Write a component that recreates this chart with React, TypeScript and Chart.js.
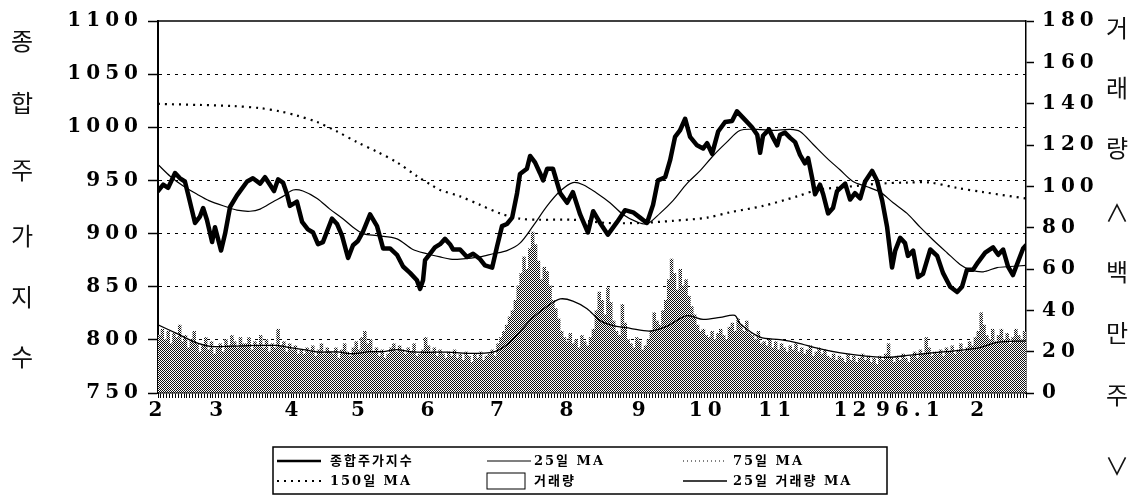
import React, { useEffect, useRef } from 'react';
import { Chart, registerables } from 'chart.js';

Chart.register(...registerables);

// ---------- axis / label data ----------
const monthTickDays = [0, 21, 47, 70, 94, 118, 142, 167, 190, 214, 240, 260, 284];
const monthLabels = ['2', '3', '4', '5', '6', '7', '8', '9', '10', '11', '12', '96.1', '2'];
const totalDays = 300;
const leftTicks = [750, 800, 850, 900, 950, 1000, 1050, 1100];
const rightTicks = [0, 20, 40, 60, 80, 100, 120, 140, 160, 180];
const leftTitle = ['종', '합', '주', '가', '지', '수'];
const rightTitle = ['거', '래', '량', '∧', '백', '만', '주', '∨'];
const seriesLabels = ['종합주가지수', '25일 MA', '75일 MA', '150일 MA', '거래량', '25일 거래량 MA'];

// ---------- series (x = trading day from start of Feb 1995) ----------
const indexDays = [0, 1.8, 3.5, 5.9, 7.6, 9.3, 10.4, 12.8, 14.5, 15.6, 16.9, 18.7, 19.7, 21.8, 23.2, 24.9, 27.3, 30.8, 32.8, 35.3, 37.0, 38.7, 40.1, 41.5, 43.2, 44.6, 45.6, 48.0, 49.8, 51.8, 53.6, 55.3, 57.0, 60.1, 61.9, 63.6, 65.7, 67.4, 69.1, 70.9, 73.3, 75.7, 77.8, 80.2, 82.6, 84.7, 87.1, 89.5, 90.6, 91.6, 92.3, 94.0, 95.7, 97.5, 99.2, 100.9, 102.0, 104.4, 106.8, 108.9, 111.3, 113.0, 115.5, 117.2, 118.9, 120.6, 122.4, 124.1, 125.1, 127.5, 128.6, 130.3, 132.0, 133.1, 134.5, 136.5, 139.0, 141.4, 143.4, 145.9, 148.6, 150.4, 152.8, 155.5, 158.7, 161.4, 164.2, 166.6, 169.0, 171.1, 172.8, 175.3, 177.0, 178.7, 180.4, 182.2, 183.9, 186.3, 188.4, 189.8, 191.5, 193.6, 196.0, 198.4, 200.1, 202.9, 205.3, 207.1, 208.1, 209.1, 211.2, 212.6, 214.0, 215.0, 216.7, 218.5, 220.2, 221.9, 223.6, 224.7, 226.1, 227.1, 228.8, 229.9, 231.6, 233.3, 234.7, 237.5, 239.2, 240.9, 242.7, 244.4, 246.8, 248.5, 250.3, 252.0, 253.7, 254.8, 256.5, 258.2, 259.2, 261.0, 262.7, 264.4, 266.9, 269.3, 271.3, 273.8, 276.2, 277.9, 279.6, 281.7, 283.4, 285.9, 288.6, 290.4, 292.1, 293.8, 295.5, 297.3, 299.0, 300];
const indexVals = [940, 946, 943, 957, 952, 949, 937, 910, 916, 924, 913, 892, 906, 884, 900, 925, 936, 949, 952, 947, 953, 946, 940, 951, 948, 937, 926, 930, 911, 904, 901, 890, 892, 914, 909, 898, 877, 889, 893, 902, 918, 907, 886, 886, 880, 869, 863, 856, 848, 856, 875, 881, 887, 890, 895, 890, 885, 885, 878, 881, 876, 870, 868, 888, 907, 909, 915, 938, 956, 961, 973, 967, 957, 950, 961, 961, 938, 929, 939, 918, 901, 921, 910, 899, 911, 922, 920, 915, 910, 927, 950, 953, 969, 991, 997, 1008, 991, 983, 980, 985, 975, 996, 1005, 1006, 1015, 1007, 1000, 993, 976, 992, 998, 990, 983, 993, 995, 990, 986, 974, 966, 971, 952, 937, 946, 937, 919, 924, 940, 947, 932, 938, 933, 949, 959, 950, 931, 906, 868, 884, 896, 891, 879, 884, 859, 862, 885, 879, 863, 850, 845, 850, 866, 866, 873, 882, 887, 880, 885, 869, 861, 874, 886, 889];

const ma25Days = [0, 4.2, 8.6, 13.5, 17.6, 23.8, 27.3, 31.8, 35.3, 39.8, 43.2, 46.7, 50.1, 55.0, 59.4, 63.9, 67.4, 70.9, 75.7, 82.6, 88.1, 93.0, 97.5, 101.0, 104.4, 111.3, 115.8, 120.6, 125.1, 129.6, 134.5, 139.0, 143.4, 146.9, 151.7, 156.2, 160.7, 165.5, 169.0, 173.5, 178.0, 182.8, 187.3, 191.8, 196.6, 201.1, 207.1, 212.6, 218.5, 221.9, 226.4, 231.2, 235.7, 240.2, 245.1, 249.6, 254.1, 258.9, 263.4, 267.9, 272.7, 277.2, 280.7, 285.2, 290.0, 294.5, 300];
const ma25Vals = [965, 954, 945, 937, 931, 925, 922, 921, 923, 930, 935, 941, 940, 933, 923, 914, 906, 900, 898, 895, 885, 881, 878, 876, 876, 878, 881, 884, 891, 907, 926, 940, 948, 946, 938, 929, 918, 911, 909, 919, 931, 947, 959, 973, 986, 997, 998, 997, 998, 996, 984, 971, 960, 949, 944, 939, 929, 919, 906, 894, 882, 871, 866, 864, 868, 869, 870];

const ma75Days: number[] = [];
const ma75Vals: number[] = [];

const ma150Days = [0, 14.5, 25.9, 35.3, 42.2, 48.0, 54.9, 61.9, 68.8, 75.7, 82.6, 89.5, 94.9, 97.5, 104.4, 111.3, 118.2, 125.1, 132.0, 143.4, 155.2, 166.6, 178.0, 189.8, 197.7, 209.1, 220.9, 227.8, 238.2, 249.6, 259.0, 266.9, 276.2, 285.2, 300];
const ma150Vals = [1022, 1021, 1020, 1018, 1015, 1011, 1005, 996, 986, 977, 967, 954, 945, 941, 935, 927, 919, 914, 913, 913, 910, 910, 912, 915, 920, 926, 935, 941, 944, 947, 948, 948, 943, 939, 933];

const volumes = [
  28, 31, 26, 30, 24, 29, 27, 33, 25, 28,
  22, 26, 30, 24, 20, 23, 27, 21, 25, 19,
  22, 24, 20, 26, 23, 28, 25, 22, 27, 24,
  24, 27, 21, 25, 23, 28, 22, 26, 20, 24,
  22, 31, 23, 25, 20, 24, 21, 23, 19, 21,
  19, 22, 20, 23, 18, 21, 24, 19, 22, 20,
  19, 22, 17, 21, 24, 20, 18, 22, 25, 21,
  27, 30, 24, 26, 20, 22, 18, 21, 17, 19,
  22, 24, 20, 23, 21, 19, 22, 20, 24, 18,
  19, 21, 27, 23, 20, 22, 18, 21, 19, 17,
  20, 18, 21, 17, 19, 16, 20, 18, 15, 19,
  17, 20, 16, 18, 19, 21, 18, 24, 27, 30,
  33, 37, 40, 45, 52, 58, 66, 60, 70, 78,
  72, 64, 55, 61, 59, 52, 45, 41, 36, 30,
  27, 25, 29, 24, 26, 22, 28, 25, 23, 27,
  31, 40, 49, 45, 38, 51, 44, 35, 30, 28,
  43, 34, 26, 24, 22, 27, 25, 21, 23, 26,
  30, 39, 35, 33, 40, 45, 55, 65, 58, 50,
  60, 52, 55, 47, 42, 38, 33, 30, 31, 28,
  27, 30, 26, 29, 31, 28, 26, 32, 34, 30,
  36, 33, 30, 35, 29, 28, 26, 30, 24, 25,
  23, 26, 22, 25, 21, 24, 22, 20, 23, 21,
  24, 20, 22, 19, 21, 23, 18, 20, 22, 19,
  21, 18, 17, 19, 16, 18, 17, 15, 19, 16,
  18, 15, 17, 19, 16, 18, 15, 17, 14, 18,
  16, 19, 24, 17, 15, 18, 16, 19, 17, 15,
  18, 20, 17, 21, 19, 27, 22, 18, 20, 19,
  21, 18, 22, 20, 23, 19, 21, 24, 20, 22,
  25, 23, 27, 30, 39, 33, 28, 26, 31, 25,
  28, 31, 26, 29, 24, 27, 31, 28, 26, 30,
];

const volMaDays = [0, 6.6, 12.1, 18.0, 25.9, 34.2, 41.1, 45.6, 51.5, 56.0, 61.9, 67.4, 73.3, 77.8, 82.6, 87.1, 93.0, 99.9, 106.8, 115.8, 120.6, 125.1, 129.6, 134.5, 139.0, 143.4, 148.3, 152.8, 157.3, 163.2, 170.1, 176.0, 182.8, 188.4, 194.3, 199.4, 201.2, 208.1, 215.0, 220.9, 228.1, 235.9, 243.8, 252.1, 260.0, 266.9, 276.2, 284.1, 290.0, 300];
const volMaVals = [33, 28.7, 25, 22.6, 22.7, 23, 23, 22, 20.7, 19.8, 19.9, 19.0, 20.0, 20.0, 21, 20, 19.7, 19.8, 19.2, 19.8, 23.3, 29.7, 36.5, 42, 45.5, 44.5, 40.8, 35, 32.6, 31.3, 30, 32.4, 37.4, 35.6, 36.6, 37.6, 33.5, 27, 25.8, 24.3, 21.6, 19.4, 18, 17.2, 18.3, 19.3, 20.5, 22, 24.5, 25.2];

const pts = (xs: number[], ys: number[]) => xs.map((x, i) => ({ x, y: ys[i] }));

const TICK_FONT = { family: '"DejaVu Serif", "Liberation Serif", serif', size: 20, weight: 'bold' as const };

export default function App() {
  const canvasRef = useRef<HTMLCanvasElement | null>(null);

  useEffect(() => {
    const canvas = canvasRef.current;
    if (!canvas) return;
    const ctx0 = canvas.getContext('2d')!;

    const pc = document.createElement('canvas');
    pc.width = 2;
    pc.height = 2;
    const pg = pc.getContext('2d')!;
    pg.fillStyle = '#ffffff';
    pg.fillRect(0, 0, 2, 2);
    pg.fillStyle = '#111111';
    pg.fillRect(0, 0, 1, 1);
    pg.fillRect(1, 1, 1, 1);
    const pattern = ctx0.createPattern(pc, 'repeat') || '#888';

    const spacingPlugin = {
      id: 'spacing',
      beforeDraw(chart: any) {
        (chart.ctx as any).letterSpacing = '5px';
      },
    };

    const decorPlugin = {
      id: 'decor',
      afterDraw(chart: any) {
        const ctx = chart.ctx as CanvasRenderingContext2D;
        const a = chart.chartArea;
        ctx.save();
        (ctx as any).letterSpacing = '0px';
        // top frame line
        ctx.strokeStyle = '#000';
        ctx.lineWidth = 1.5;
        ctx.beginPath();
        ctx.moveTo(a.left, a.top);
        ctx.lineTo(a.right, a.top);
        ctx.stroke();

        // vertical axis titles
        ctx.fillStyle = '#111';
        ctx.font = '24px "Noto Sans CJK KR", sans-serif';
        ctx.textAlign = 'center';
        ctx.textBaseline = 'middle';
        const leftY = [41, 103, 170, 236, 297, 357];
        leftTitle.forEach((ch, i) => ctx.fillText(ch, 22, leftY[i]));
        const rightY = [28, 88, 148, 213, 272, 333, 395, 466];
        rightTitle.forEach((ch, i) => ctx.fillText(ch, 1117, rightY[i]));

        // legend box
        ctx.lineWidth = 1.5;
        ctx.strokeStyle = '#000';
        ctx.strokeRect(273, 447, 614, 47);
        const sampleX = [277, 487, 683];
        const textX = [330, 534, 733];
        const rowY = [461, 481];
        ctx.textAlign = 'left';
        ctx.font = 'bold 13px "DejaVu Serif", "Noto Sans CJK KR", serif';
        (ctx as any).letterSpacing = '2px';
        chart.data.datasets.forEach((ds: any, i: number) => {
          const col = i % 3;
          const row = Math.floor(i / 3);
          const y = rowY[row];
          const sx = sampleX[col];
          ctx.save();
          if (ds.type === 'line') {
            ctx.strokeStyle = '#000';
            ctx.lineWidth = Math.min(ds.borderWidth, 2.5);
            ctx.setLineDash(ds.borderDash || []);
            ctx.beginPath();
            ctx.moveTo(sx, y);
            ctx.lineTo(sx + 44, y);
            ctx.stroke();
          } else {
            ctx.fillStyle = '#fff';
            ctx.fillRect(sx, y - 8, 38, 16);
            ctx.strokeStyle = '#000';
            ctx.lineWidth = 1;
            ctx.strokeRect(sx, y - 8, 38, 16);
          }
          ctx.restore();
          ctx.fillStyle = '#000';
          ctx.fillText(ds.label, textX[col], y + 1);
        });
        ctx.restore();
      },
    };

    const chart = new Chart(canvas, {
      type: 'bar',
      data: {
        datasets: [
          {
            type: 'line',
            label: seriesLabels[0],
            data: pts(indexDays, indexVals),
            borderColor: '#000',
            borderWidth: 4.5,
            borderJoinStyle: 'round',
            borderCapStyle: 'round',
            pointRadius: 0,
            tension: 0,
            yAxisID: 'y',
            order: 0,
          } as any,
          {
            type: 'line',
            label: seriesLabels[1],
            data: pts(ma25Days, ma25Vals),
            borderColor: '#000',
            borderWidth: 1.2,
            pointRadius: 0,
            tension: 0.3,
            yAxisID: 'y',
            order: 1,
          } as any,
          {
            type: 'line',
            label: seriesLabels[2],
            data: pts(ma75Days, ma75Vals),
            borderColor: '#000',
            borderWidth: 1,
            borderDash: [1, 3],
            pointRadius: 0,
            yAxisID: 'y',
            order: 2,
          } as any,
          {
            type: 'line',
            label: seriesLabels[3],
            data: pts(ma150Days, ma150Vals),
            borderColor: '#000',
            borderWidth: 2.2,
            borderDash: [2, 5],
            pointRadius: 0,
            tension: 0.3,
            yAxisID: 'y',
            order: 3,
          } as any,
          {
            type: 'bar',
            label: seriesLabels[4],
            data: volumes.map((v, i) => ({ x: i + 0.5, y: v })),
            backgroundColor: pattern as any,
            borderWidth: 0,
            barPercentage: 1.2,
            categoryPercentage: 1,
            yAxisID: 'y1',
            order: 10,
          } as any,
          {
            type: 'line',
            label: seriesLabels[5],
            data: pts(volMaDays, volMaVals),
            borderColor: '#000',
            borderWidth: 1.3,
            pointRadius: 0,
            tension: 0.3,
            yAxisID: 'y1',
            order: 4,
          } as any,
        ],
      },
      options: {
        responsive: false,
        animation: false,
        devicePixelRatio: 1,
        layout: { padding: { top: 21, left: 0, right: 0, bottom: 0 } },
        plugins: { legend: { display: false }, tooltip: { enabled: false } },
        scales: {
          x: {
            type: 'linear',
            min: 0,
            max: totalDays,
            offset: false,
            afterBuildTicks: (s: any) => {
              s.ticks = Array.from({ length: totalDays + 1 }, (_, i) => ({ value: i }));
            },
            afterFit: (s: any) => {
              s.height = 109;
            },
            grid: {
              offset: false,
              drawOnChartArea: false,
              drawTicks: true,
              tickLength: 5,
              tickColor: '#000',
              tickWidth: 1,
            },
            border: { display: true, color: '#000', width: 1.5 },
            ticks: {
              autoSkip: false,
              maxRotation: 0,
              minRotation: 0,
              padding: 1,
              color: '#000',
              font: TICK_FONT,
              callback: (value: any) => {
                const k = monthTickDays.indexOf(Number(value));
                return k >= 0 ? monthLabels[k] : '';
              },
            },
          },
          y: {
            type: 'linear',
            position: 'left',
            min: 750,
            max: 1100,
            afterBuildTicks: (s: any) => {
              s.ticks = leftTicks.map((v) => ({ value: v }));
            },
            afterFit: (s: any) => {
              s.width = 158;
            },
            grid: {
              color: (c: any) => (c.tick && (c.tick.value === 750 || c.tick.value === 1100) ? 'rgba(0,0,0,0)' : '#000'),
              lineWidth: 1,
              tickLength: 10,
              tickColor: '#000',
              tickWidth: 1.5,
            },
            border: { display: true, color: '#000', width: 2, dash: [3, 5] },
            ticks: { padding: 5, color: '#000', font: TICK_FONT, callback: (v: any) => String(v) },
          },
          y1: {
            type: 'linear',
            position: 'right',
            min: 0,
            max: 180,
            afterBuildTicks: (s: any) => {
              s.ticks = rightTicks.map((v) => ({ value: v }));
            },
            afterFit: (s: any) => {
              s.width = 112;
            },
            grid: {
              drawOnChartArea: false,
              tickLength: 8,
              tickColor: '#000',
              tickWidth: 1.5,
            },
            border: { display: true, color: '#000', width: 1.5 },
            ticks: { padding: 8, color: '#000', font: TICK_FONT, callback: (v: any) => String(v) },
          },
        },
      } as any,
      plugins: [spacingPlugin, decorPlugin],
    });

    return () => {
      chart.destroy();
    };
  }, []);

  return (
    <div style={{ position: 'absolute', left: 0, top: 0, width: 1138, height: 502, background: '#fff' }}>
      <canvas ref={canvasRef} width={1138} height={502} style={{ display: 'block', width: 1138, height: 502 }} />
    </div>
  );
}
